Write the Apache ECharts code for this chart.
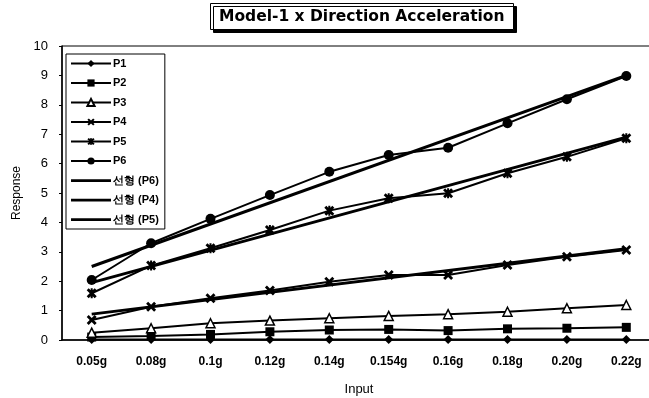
<!DOCTYPE html>
<html><head><meta charset="utf-8">
<script src="https://cdn.jsdelivr.net/npm/echarts@6/dist/echarts.min.js"></script>
<style>html,body{margin:0;padding:0;background:#fff}#c{width:649px;height:398px}</style>
</head><body><div id="c"></div>
<script>
const categories = ['0.05g','0.08g','0.1g','0.12g','0.14g','0.154g','0.16g','0.18g','0.20g','0.22g'];
const P1 = [0.02,0.02,0.02,0.02,0.02,0.02,0.02,0.02,0.02,0.02];
const P2 = [0.10,0.14,0.19,0.28,0.34,0.36,0.32,0.38,0.40,0.43];
const P3 = [0.25,0.40,0.57,0.66,0.74,0.82,0.88,0.96,1.08,1.19];
const P4 = [0.68,1.13,1.42,1.68,1.98,2.21,2.21,2.55,2.83,3.06];
const P5 = [1.59,2.53,3.12,3.74,4.40,4.82,4.99,5.67,6.23,6.86];
const P6 = [2.04,3.29,4.12,4.93,5.72,6.29,6.54,7.37,8.19,8.98];
const trendP6 = [2.50,null,null,null,null,null,null,null,null,9.00];
const trendP4 = [0.88,null,null,null,null,null,null,null,null,3.10];
const trendP5 = [1.95,null,null,null,null,null,null,null,null,6.90];
const yTicks = [0,1,2,3,4,5,6,7,8,9,10];

const X_PATH = 'path://M0,2L2,0L5,3L8,0L10,2L7,5L10,8L8,10L5,7L2,10L0,8L3,5Z';
const STAR_PATH = 'path://M0,2L2,0L5,3L8,0L10,2L7,5L10,8L8,10L5,7L2,10L0,8L3,5ZM4,0L6,0L6,10L4,10Z';
const TREND_ICON = 'path://M0,3.3L40,3.3L40,5.9L0,5.9ZM0,0L0.01,0L0.01,0.01ZM0,9L0.01,9L0.01,9.01Z';

function dataSeries(name, data, symbol, size, fill) {
  return {
    name, type: 'line', data, symbol, symbolSize: size,
    itemStyle: { color: fill || '#000', borderColor: '#000', borderWidth: fill ? 1.5 : 0 },
    lineStyle: { color: '#000', width: 2 },
    z: 3
  };
}
function trendSeries(name, data) {
  return {
    name, type: 'line', data, symbol: 'none', connectNulls: true,
    itemStyle: { color: '#000' },
    lineStyle: { color: '#000', width: 3 },
    z: 2
  };
}

const chart = echarts.init(document.getElementById('c'), null, { renderer: 'canvas' });
chart.setOption({
  animation: false,
  backgroundColor: '#fff',
  textStyle: { fontFamily: 'Liberation Sans, Arial, sans-serif', color: '#000' },
  title: {
    text: 'Model-1 x Direction Acceleration',
    left: 210, top: 3,
    padding: [6, 9, 5, 9],
    backgroundColor: '#fff',
    borderColor: '#000', borderWidth: 1,
    shadowColor: '#000', shadowOffsetX: 3, shadowOffsetY: 3, shadowBlur: 0,
    textStyle: { fontSize: 15.5, fontWeight: 'bold', color: '#000', fontFamily: 'DejaVu Sans, sans-serif' }
  },
  legend: {
    orient: 'vertical', left: 66, top: 54,
    padding: [4, 6, 4, 4],
    itemWidth: 40, itemHeight: 9, itemGap: 8.5,
    backgroundColor: '#fff',
    borderColor: '#000', borderWidth: 1,
    textStyle: { fontSize: 11, fontWeight: 'bold', color: '#000', padding: [0,0,0,-3] },
    data: ['P1','P2','P3','P4','P5','P6',
      { name: '선형 (P6)', icon: TREND_ICON },
      { name: '선형 (P4)', icon: TREND_ICON },
      { name: '선형 (P5)', icon: TREND_ICON }]
  },
  grid: { left: 62, top: 46, width: 594, height: 294, outerBoundsMode: 'none', containLabel: false,
          show: true, borderColor: '#000', borderWidth: 1, backgroundColor: 'transparent' },
  xAxis: {
    type: 'category', data: categories, boundaryGap: true,
    name: 'Input', nameLocation: 'middle', nameGap: 43,
    nameTextStyle: { fontSize: 13, color: '#000' },
    axisLine: { lineStyle: { color: '#000', width: 1.5 } },
    axisTick: { show: false },
    axisLabel: { fontSize: 12, color: '#000', margin: 16, fontWeight: 'bold' }
  },
  yAxis: {
    type: 'value', min: yTicks[0], max: yTicks[yTicks.length - 1], interval: 1,
    name: 'Response', nameLocation: 'middle', nameGap: 38, nameRotate: 90,
    nameTextStyle: { fontSize: 12, color: '#000' },
    axisLine: { show: true, lineStyle: { color: '#000', width: 1.5 } },
    axisTick: { show: true, length: 3, lineStyle: { color: '#000' } },
    splitLine: { show: false },
    axisLabel: { fontSize: 13, color: '#000', margin: 14 }
  },
  series: [
    dataSeries('P1', P1, 'diamond', 9),
    dataSeries('P2', P2, 'rect', 9),
    dataSeries('P3', P3, 'triangle', 9, '#fff'),
    dataSeries('P4', P4, X_PATH, 10),
    dataSeries('P5', P5, STAR_PATH, 10),
    dataSeries('P6', P6, 'circle', 10),
    trendSeries('선형 (P6)', trendP6),
    trendSeries('선형 (P4)', trendP4),
    trendSeries('선형 (P5)', trendP5)
  ]
});
</script></body></html>
